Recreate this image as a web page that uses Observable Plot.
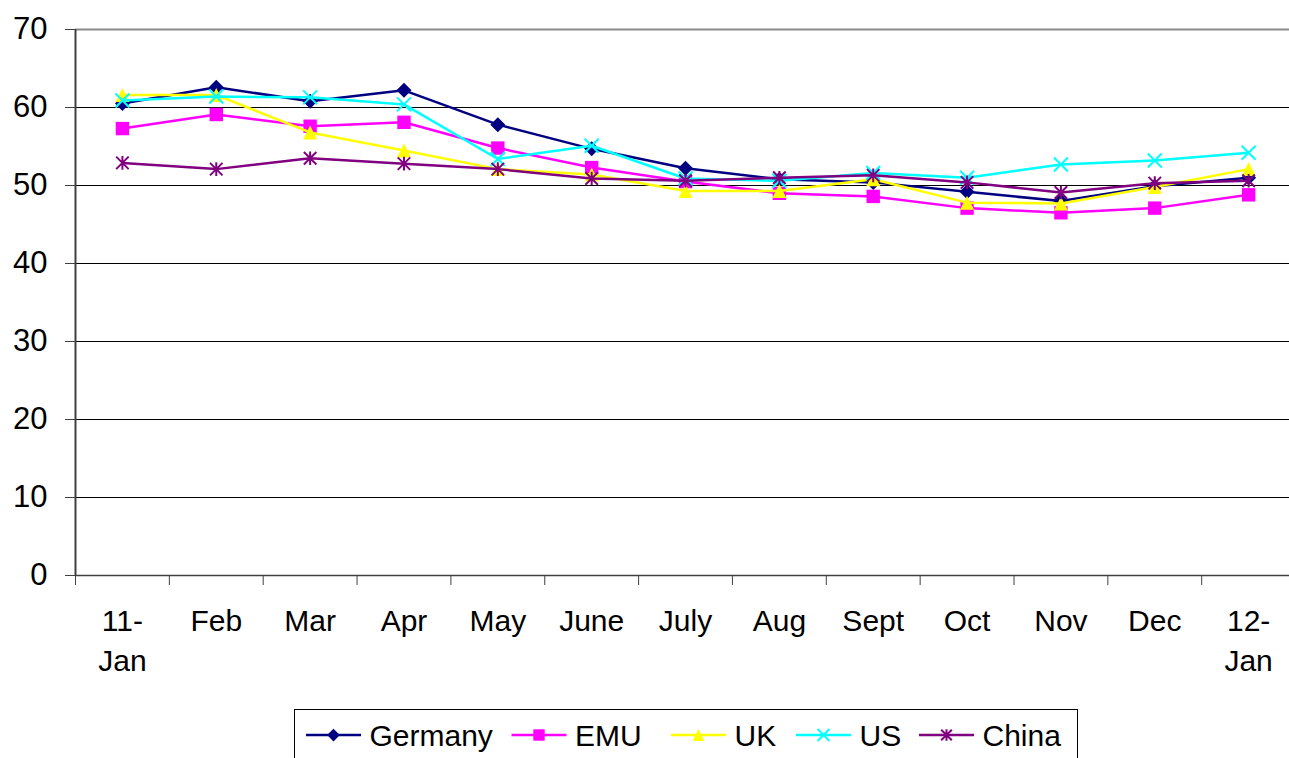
<!DOCTYPE html>
<html><head><meta charset="utf-8">
<script src="https://cdn.jsdelivr.net/npm/d3@7"></script>
<script src="https://cdn.jsdelivr.net/npm/@observablehq/plot@0.6"></script>
<style>
html,body{margin:0;padding:0;background:#fff;overflow:hidden;}
#wrap{position:relative;width:1289px;height:758px;font-family:"Liberation Sans",Arial,sans-serif;}
#legend{position:absolute;left:294px;top:709px;}
</style></head><body><div id="wrap"><div id="chart"></div><div id="legend"></div></div>
<script>
// ---- data ----
const months = ["11-\nJan","Feb","Mar","Apr","May","June","July","Aug","Sept","Oct","Nov","Dec","12-\nJan"];
const seriesNames = ["Germany","EMU","UK","US","China"];
const germany = [60.5, 62.6, 60.8, 62.2, 57.8, 54.7, 52.2, 50.8, 50.4, 49.2, 48.0, 49.9, 51.0];
const emu     = [57.3, 59.1, 57.6, 58.1, 54.8, 52.3, 50.5, 49.0, 48.6, 47.1, 46.5, 47.1, 48.8];
const uk      = [61.6, 61.6, 56.8, 54.5, 52.1, 51.4, 49.3, 49.3, 50.8, 47.8, 47.7, 49.8, 52.1];
const us      = [60.9, 61.4, 61.3, 60.4, 53.4, 55.1, 50.9, 50.6, 51.6, 51.0, 52.7, 53.2, 54.2];
const china   = [52.9, 52.1, 53.5, 52.8, 52.1, 50.9, 50.6, 51.0, 51.3, 50.4, 49.1, 50.3, 50.6];
const yTicks  = [0, 10, 20, 30, 40, 50, 60, 70];
const colors  = ["#000080", "#FF00FF", "#FFFF00", "#00FFFF", "#800080"];

const values = [germany, emu, uk, us, china];
const rows = seriesNames.flatMap((name, k) => values[k].map((v, i) => ({series: name, i, month: months[i], value: v})));

// ---- Excel-like marker symbols (half-size h = sqrt(size)/2) ----
const symDiamond = {draw(c, s){const h=Math.sqrt(s)/2; c.moveTo(0,-h); c.lineTo(h,0); c.lineTo(0,h); c.lineTo(-h,0); c.closePath();}};
const symSquare  = {draw(c, s){const h=Math.sqrt(s)/2; c.rect(-h,-h,2*h,2*h);}};
const symTriangle= {draw(c, s){const h=Math.sqrt(s)/2; c.moveTo(0,-h); c.lineTo(h,h); c.lineTo(-h,h); c.closePath();}};
const symTimes   = {draw(c, s){const h=Math.sqrt(s)/2; c.moveTo(-h,-h); c.lineTo(h,h); c.moveTo(-h,h); c.lineTo(h,-h);}};
const symStar    = {draw(c, s){const h=Math.sqrt(s)/2; c.moveTo(0,-h); c.lineTo(0,h); const d=h*0.92; c.moveTo(-d,-d); c.lineTo(d,d); c.moveTo(-d,d); c.lineTo(d,-d);}};
const markers = [
  {symbol: symDiamond, half: 7.5, filled: true},
  {symbol: symSquare, half: 6.7, filled: true},
  {symbol: symTriangle, half: 7, filled: true},
  {symbol: symTimes, half: 7, filled: false},
  {symbol: symStar, half: 6.8, filled: false}
];
const rFor = h => 2*h/Math.sqrt(Math.PI);

const W = 1289, H = 708;
const seriesMarks = seriesNames.flatMap((name, k) => {
  const data = rows.filter(d => d.series === name);
  const m = markers[k];
  return [
    Plot.line(data, {x: "i", y: "value", stroke: colors[k], strokeWidth: 2.5}),
    Plot.dot(data, m.filled
      ? {x: "i", y: "value", symbol: m.symbol, r: rFor(m.half), fill: colors[k], stroke: "none"}
      : {x: "i", y: "value", symbol: m.symbol, r: rFor(m.half), fill: "none", stroke: colors[k], strokeWidth: 2})
  ];
});

const chart = Plot.plot({
  width: W, height: H,
  marginLeft: 75, marginRight: 0, marginTop: 29, marginBottom: H - 575,
  style: {fontFamily: "'Liberation Sans', Arial, sans-serif", background: "white", color: "black", overflow: "hidden"},
  x: {type: "linear", domain: [-0.5, months.length - 0.5], range: [75, 75 + 93.85 * months.length]},
  y: {domain: [0, 70]},
  marks: [
    Plot.ruleY(yTicks.filter(t => t > 0 && t < 70), {stroke: "#000", strokeWidth: 1}),
    Plot.ruleY([70], {stroke: "#8a8a8a", strokeWidth: 2}),
    Plot.ruleY([0], {stroke: "#404040", strokeWidth: 1.5}),
    Plot.ruleX([-0.5], {stroke: "#404040", strokeWidth: 2}),
    Plot.axisY({ticks: yTicks, tickSize: 10, tickPadding: 18, fontSize: 31, stroke: "#404040", label: null}),
    Plot.axisX({ticks: d3.range(-0.5, months.length, 1), tickSize: 10, tickFormat: () => "", stroke: "#404040", label: null}),
    Plot.axisX({ticks: d3.range(0, months.length), tickSize: 0, tickPadding: 27, tickFormat: i => months[i], fontSize: 30, lineHeight: 1.333, label: null}),
    ...seriesMarks
  ]
});
document.getElementById("chart").appendChild(chart);

// ---- legend ----
const itemX = [12, 217.5, 377, 502, 625];
const lg = d3.select("#legend").append("svg").attr("width", 784).attr("height", 60)
  .style("font-family", "'Liberation Sans', Arial, sans-serif").style("display", "block");
lg.append("rect").attr("x", 0.5).attr("y", 0.5).attr("width", 783).attr("height", 70)
  .attr("fill", "white").attr("stroke", "#000").attr("stroke-width", 1);
seriesNames.forEach((name, k) => {
  const x0 = itemX[k], cy = 26, m = markers[k];
  lg.append("line").attr("x1", x0).attr("x2", x0 + 55).attr("y1", cy).attr("y2", cy)
    .attr("stroke", colors[k]).attr("stroke-width", 2.5);
  const size = Math.pow(m.half * 2 * 0.85, 2);
  lg.append("path").attr("d", d3.symbol(m.symbol, size)())
    .attr("transform", `translate(${x0 + 27.5},${cy})`)
    .attr("fill", m.filled ? colors[k] : "none")
    .attr("stroke", m.filled ? "none" : colors[k]).attr("stroke-width", 2);
  lg.append("text").attr("x", x0 + 63.5).attr("y", cy + 11).attr("font-size", 30).attr("fill", "#000").text(name);
});
</script>
</body></html>
